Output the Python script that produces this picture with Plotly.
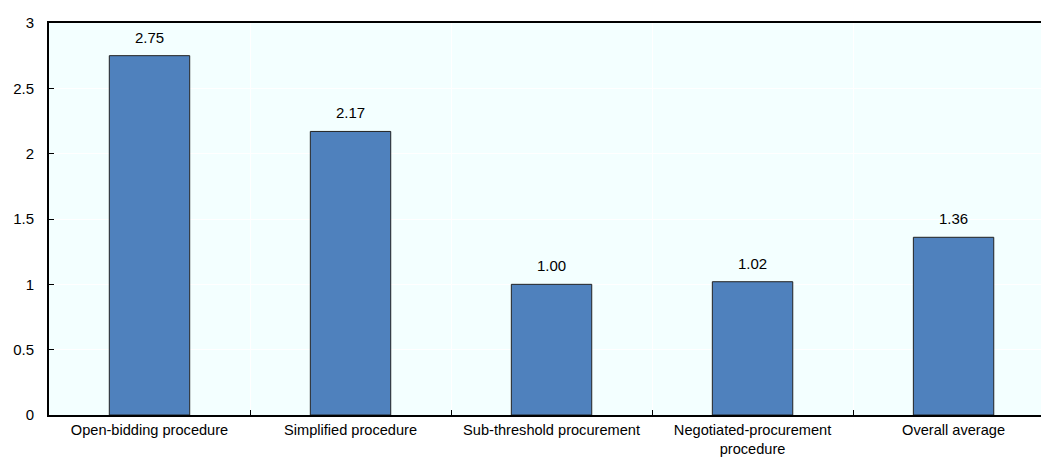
import plotly.graph_objects as go

categories = ["Open-bidding procedure", "Simplified procedure", "Sub-threshold procurement",
              "Negotiated-procurement<br>procedure", "Overall average"]
values = [2.75, 2.17, 1.00, 1.02, 1.36]
y_ticks = [0, 0.5, 1, 1.5, 2, 2.5, 3]
y_tick_labels = ["0", "0.5", "1", "1.5", "2", "2.5", "3"]

FONT = "Liberation Sans, Arial, sans-serif"

fig = go.Figure()
fig.add_trace(go.Bar(
    x=categories, y=values, width=0.4,
    marker=dict(color="#4F81BD", line=dict(color="#222222", width=1)),
    hoverinfo="x+y",
))

for c, v in zip(categories, values):
    fig.add_annotation(x=c, y=v, text=f"{v:.2f}", showarrow=False,
                       yanchor="bottom", yshift=8,
                       font=dict(family=FONT, size=15, color="black"))

fig.update_layout(
    width=1041, height=459,
    margin=dict(l=49, r=0, t=23, b=44),
    paper_bgcolor="white", plot_bgcolor="#F3FFFF",
    showlegend=False, bargap=0.6,
    font=dict(family=FONT, size=15, color="black"),
)
fig.update_xaxes(
    type="category", range=[-0.5, 4.435],
    tickson="boundaries", ticks="inside", ticklen=5, tickcolor="black",
    showgrid=True, gridcolor="white", gridwidth=1,
    showline=True, linecolor="black", linewidth=2, mirror=True,
    tickfont=dict(family=FONT, size=14.6, color="black"),
)
fig.update_yaxes(
    range=[0, 3], tickvals=y_ticks, ticktext=y_tick_labels,
    ticks="inside", ticklen=5, tickcolor="black",
    ticklabelstandoff=10,
    showgrid=True, gridcolor="white", gridwidth=1, zeroline=False,
    showline=True, linecolor="black", linewidth=2,
    tickfont=dict(family=FONT, size=15, color="black"),
)

fig.write_html("out.html")
